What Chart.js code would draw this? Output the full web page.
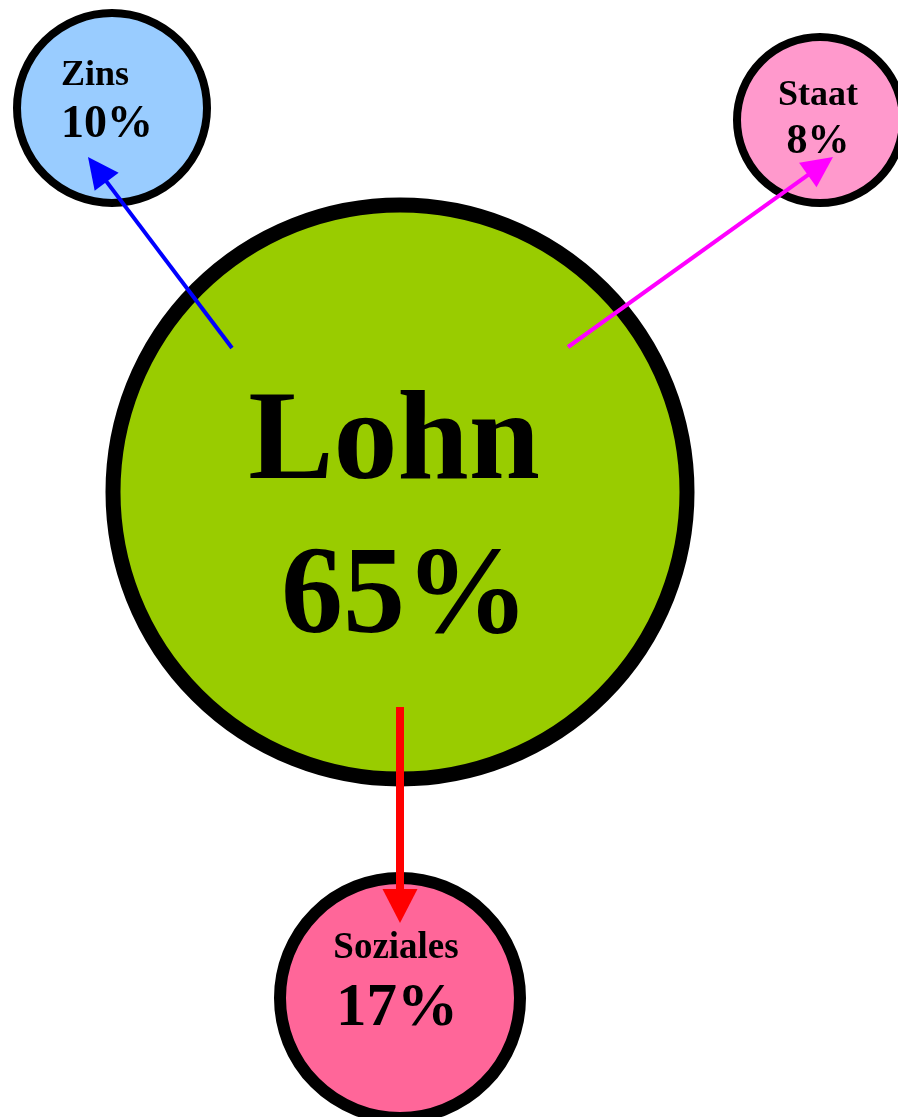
<!DOCTYPE html>
<html>
<head>
<meta charset="utf-8">
<script src="https://cdn.jsdelivr.net/npm/chart.js@4"></script>
<style>
  html, body { margin: 0; padding: 0; background: #fff; }
  canvas { display: block; }
</style>
</head>
<body>
<canvas id="chart" width="898" height="1117"></canvas>
<script>
// Income shares, each drawn as one bubble
const categories = ['Lohn', 'Zins', 'Staat', 'Soziales'];
const shares = [65, 10, 8, 17];
// bubble placement in the (hidden) data space, y counted downward
const bubbleX = [400, 112, 820, 400];
const bubbleY = [492, 108, 120, 998];
const bubbleR = [287, 95, 83, 120];
// arrows run from the Lohn bubble out to the others
const arrowFrom = [{ x: 232, y: 348 }, { x: 568, y: 347 }, { x: 400, y: 707 }];
const arrowTo = [{ x: 88, y: 157 }, { x: 833, y: 157 }, { x: 400, y: 923 }];

const fills = ['#99cc00', '#99ccff', '#ff99cc', '#ff6699'];
const borders = [15, 8, 8, 12];
const arrowColors = ['#0000ff', '#ff00ff', '#ff0000'];
const arrowWidths = [4, 4, 8];
const arrowHeads = [[31, 30], [31, 30], [34, 35]]; // length, width

// label layout: [name size, name dx, name dy, value size, value dx, value dy]
const labelLayout = [
  [128, -6, -14, 124, 5, 140],
  [36, -17, -23, 46, -5, 29],
  [36, -2, -15, 42, -2, 33],
  [37, -4, -40, 61, -3, 27],
];
const FONT = '"Liberation Serif", "Times New Roman", serif';

const bubbleLabels = {
  id: 'bubbleLabels',
  afterDatasetsDraw(chart) {
    const ctx = chart.ctx;
    const sx = chart.scales.x, sy = chart.scales.y;
    ctx.save();

    // arrow heads: tip at the arrow target, line stops inside the head
    chart.data.datasets.forEach((ds) => {
      if (ds.type !== 'line') return;
      const a = { x: sx.getPixelForValue(ds.data[0].x), y: sy.getPixelForValue(ds.data[0].y) };
      const b = { x: sx.getPixelForValue(ds.tip.x), y: sy.getPixelForValue(ds.tip.y) };
      const ang = Math.atan2(b.y - a.y, b.x - a.x);
      const [len, w] = ds.head;
      ctx.fillStyle = ds.borderColor;
      ctx.beginPath();
      ctx.moveTo(b.x, b.y);
      ctx.lineTo(b.x - len * Math.cos(ang) + (w / 2) * Math.sin(ang),
                 b.y - len * Math.sin(ang) - (w / 2) * Math.cos(ang));
      ctx.lineTo(b.x - len * Math.cos(ang) - (w / 2) * Math.sin(ang),
                 b.y - len * Math.sin(ang) + (w / 2) * Math.cos(ang));
      ctx.closePath();
      ctx.fill();
    });

    // names and percentages
    const meta = chart.getDatasetMeta(0);
    ctx.fillStyle = '#000';
    ctx.textAlign = 'center';
    ctx.textBaseline = 'alphabetic';
    meta.data.forEach((pt, i) => {
      const [ns, ndx, ndy, vs, vdx, vdy] = labelLayout[i];
      ctx.font = `bold ${ns}px ${FONT}`;
      ctx.fillText(categories[i], pt.x + ndx, pt.y + ndy);
      ctx.font = `bold ${vs}px ${FONT}`;
      ctx.fillText(`${shares[i]}%`, pt.x + vdx, pt.y + vdy);
    });
    ctx.restore();
  },
};

const arrowSets = arrowFrom.map((from, i) => {
  const to = arrowTo[i];
  const d = Math.hypot(to.x - from.x, to.y - from.y);
  const back = arrowHeads[i][0] * 0.6 / d;
  // shaft ends part-way into the head so its square end stays hidden
  const shaftEnd = { x: to.x - (to.x - from.x) * back, y: to.y - (to.y - from.y) * back };
  return {
    type: 'line',
    data: [from, shaftEnd],
    tip: to,
    borderColor: arrowColors[i],
    borderWidth: arrowWidths[i],
    borderCapStyle: 'butt',
    pointRadius: 0,
    tension: 0,
    fill: false,
    clip: false,
    order: 1,
    head: arrowHeads[i],
  };
});

new Chart(document.getElementById('chart'), {
  type: 'bubble',
  data: {
    datasets: [
      {
        type: 'bubble',
        data: categories.map((c, i) => ({ x: bubbleX[i], y: bubbleY[i], r: bubbleR[i] })),
        backgroundColor: fills,
        borderColor: '#000',
        borderWidth: borders,
        clip: false,
        order: 2,
      },
      ...arrowSets,
    ],
  },
  options: {
    responsive: false,
    devicePixelRatio: 1,
    animation: false,
    events: [],
    layout: { padding: 0, autoPadding: false },
    plugins: {
      legend: { display: false },
      tooltip: { enabled: false },
    },
    scales: {
      x: { type: 'linear', min: 0, max: 898, display: false },
      y: { type: 'linear', min: 0, max: 1117, reverse: true, display: false },
    },
  },
  plugins: [bubbleLabels],
});
</script>
</body>
</html>
